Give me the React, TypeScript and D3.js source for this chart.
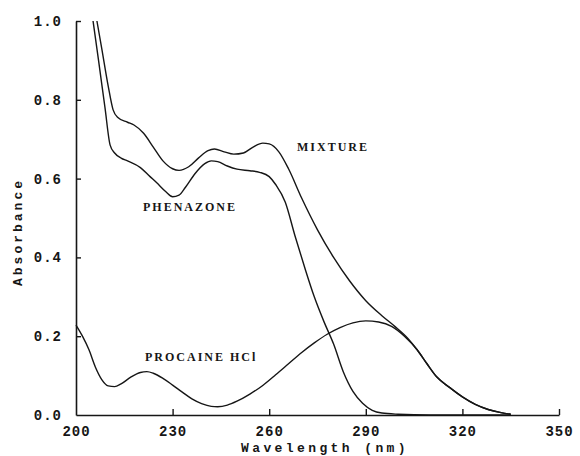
import { useEffect, useRef } from 'react';
import * as d3 from 'd3';

const xTicks = [200, 230, 260, 290, 320, 350];
const yTicks = [0, 0.2, 0.4, 0.6, 0.8, 1.0];

const mixtureWl = [206.5, 208, 210, 211.5, 213, 216, 218, 221, 224, 227, 230, 232, 235, 238, 241, 243, 246, 249, 252, 255, 258, 260, 263, 266, 270, 275, 280, 285, 290, 295, 299, 303, 306, 309, 312, 316, 320, 324, 328, 332, 335];
const mixtureAbs = [1.0, 0.93, 0.835, 0.775, 0.755, 0.743, 0.736, 0.715, 0.68, 0.645, 0.625, 0.621, 0.63, 0.652, 0.671, 0.675, 0.668, 0.662, 0.665, 0.68, 0.69, 0.688, 0.668, 0.625, 0.552, 0.47, 0.4, 0.34, 0.29, 0.252, 0.225, 0.195, 0.165, 0.13, 0.097, 0.07, 0.046, 0.027, 0.014, 0.006, 0.002];

const phenazoneWl = [205.3, 207, 209, 210.6, 212, 214, 216, 220, 223, 225, 228, 230, 232, 234, 237, 240, 242, 244, 247, 250, 254, 257, 260, 262, 265, 268, 271, 274, 277, 280, 283, 286, 289, 292, 295, 300, 310, 335];
const phenazoneAbs = [1.0, 0.9, 0.78, 0.685, 0.665, 0.652, 0.645, 0.628, 0.605, 0.59, 0.566, 0.554, 0.558, 0.578, 0.613, 0.638, 0.645, 0.643, 0.632, 0.624, 0.62, 0.616, 0.605, 0.585, 0.54, 0.455, 0.375, 0.3, 0.237, 0.18, 0.11, 0.06, 0.03, 0.012, 0.005, 0.002, 0.0, 0.0];

const procaineWl = [200, 202, 204, 206, 208, 210, 212, 214, 217, 220, 222, 224, 227, 230, 233, 236, 239, 242, 244, 247, 250, 254, 258, 262, 266, 270, 274, 278, 282, 286, 290, 294, 298, 302, 306, 309, 312, 316, 320, 324, 328, 332, 335];
const procaineAbs = [0.228, 0.2, 0.166, 0.122, 0.09, 0.074, 0.072, 0.079, 0.096, 0.108, 0.11, 0.106, 0.093, 0.076, 0.058, 0.041, 0.029, 0.022, 0.021, 0.025, 0.035, 0.053, 0.075, 0.102, 0.13, 0.158, 0.183, 0.205, 0.222, 0.234, 0.239, 0.236, 0.225, 0.2, 0.165, 0.13, 0.097, 0.07, 0.046, 0.027, 0.014, 0.006, 0.002];

const seriesLabels = ['MIXTURE', 'PHENAZONE', 'PROCAINE HCl'];

export default function App() {
  const svgRef = useRef<SVGSVGElement | null>(null);

  useEffect(() => {
    if (!svgRef.current) return;
    const W = 580;
    const H = 456;

    const svg = d3.select(svgRef.current);
    svg.selectAll('*').remove();
    svg.attr('width', W).attr('height', H);

    const x = d3.scaleLinear().domain([200, 350]).range([76, 559]);
    const y = d3.scaleLinear().domain([0, 1]).range([415, 21]);

    const ink = '#161616';
    const mono = '"Liberation Mono", "DejaVu Sans Mono", monospace';
    const serif = '"Liberation Serif", "DejaVu Serif", serif';

    // ── Ejes ─────────────────────────────────────────────────────────────────
    svg.append('g')
      .attr('transform', `translate(0,${y(0)})`)
      .call(d3.axisBottom(x).tickValues(xTicks).tickSizeInner(-6).tickSizeOuter(0).tickPadding(8).tickFormat(d3.format('d')))
      .call(ax => ax.select('.domain').attr('stroke', ink).attr('stroke-width', 1.6))
      .call(ax => ax.selectAll('.tick line').attr('stroke', ink).attr('stroke-width', 1.4))
      .call(ax => ax.selectAll('.tick').filter((d: any) => d === 200).select('line').remove())
      .call(ax => ax.selectAll('text')
        .attr('fill', ink).attr('font-family', mono).attr('font-weight', 'bold')
        .attr('font-size', 14).attr('letter-spacing', 1).attr('dy', '0.9em'));

    svg.append('g')
      .attr('transform', `translate(${x(200)},0)`)
      .call(d3.axisLeft(y).tickValues(yTicks).tickSizeInner(-5).tickSizeOuter(0).tickPadding(14).tickFormat(d3.format('.1f')))
      .call(ax => ax.select('.domain').attr('stroke', ink).attr('stroke-width', 1.6))
      .call(ax => ax.selectAll('.tick line').attr('stroke', ink).attr('stroke-width', 1.4))
      .call(ax => ax.selectAll('.tick').filter((d: any) => d === 0).select('line').remove())
      .call(ax => ax.selectAll('text')
        .attr('fill', ink).attr('font-family', mono).attr('font-weight', 'bold')
        .attr('font-size', 14).attr('letter-spacing', 1));

    // ── Títulos de ejes ──────────────────────────────────────────────────────
    svg.append('text')
      .attr('x', 325).attr('y', 452)
      .attr('text-anchor', 'middle')
      .attr('font-family', mono).attr('font-weight', 'bold')
      .attr('font-size', 13).attr('letter-spacing', 3.4)
      .attr('fill', ink)
      .text('Wavelength (nm)');

    svg.append('text')
      .attr('transform', 'translate(22,232) rotate(-90)')
      .attr('text-anchor', 'middle')
      .attr('font-family', mono).attr('font-weight', 'bold')
      .attr('font-size', 13).attr('letter-spacing', 3)
      .attr('fill', ink)
      .text('Absorbance');

    // ── Curvas ───────────────────────────────────────────────────────────────
    const line = d3.line<[number, number]>()
      .x(d => x(d[0]))
      .y(d => y(d[1]))
      .curve(d3.curveMonotoneX);

    const series: [number[], number[]][] = [
      [mixtureWl, mixtureAbs],
      [phenazoneWl, phenazoneAbs],
      [procaineWl, procaineAbs],
    ];

    series.forEach(([wl, ab]) => {
      const pts = wl.map((w, i) => [w, ab[i]] as [number, number]);
      svg.append('path')
        .datum(pts)
        .attr('fill', 'none')
        .attr('stroke', ink)
        .attr('stroke-width', 1.4)
        .attr('stroke-linejoin', 'round')
        .attr('d', line);
    });

    // ── Etiquetas de curvas ──────────────────────────────────────────────────
    const labelPos: [number, number][] = [[297, 151], [143, 211], [145, 361]];
    seriesLabels.forEach((t, i) => {
      svg.append('text')
        .attr('x', labelPos[i][0]).attr('y', labelPos[i][1])
        .attr('font-family', serif).attr('font-weight', 'bold')
        .attr('font-size', 12).attr('letter-spacing', 2)
        .attr('fill', ink)
        .text(t);
    });
  }, []);

  return (
    <svg
      ref={svgRef}
      style={{ position: 'absolute', left: 0, top: 0, background: '#fff' }}
    />
  );
}
